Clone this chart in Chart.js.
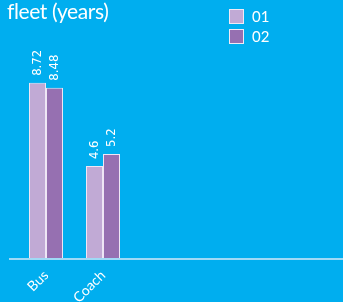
<!DOCTYPE html>
<html>
<head>
<meta charset="utf-8">
<script src="https://cdn.jsdelivr.net/npm/chart.js@4.4.1/dist/chart.umd.min.js"></script>
<style>
    html, body { margin: 0; padding: 0; background: #00aeef; }
    #wrap { position: relative; width: 343px; height: 302px; overflow: hidden; }
    #title {
        position: absolute; left: 7px; top: -2px;
        color: #fff; font: 21px Lato, sans-serif; white-space: nowrap; letter-spacing: -0.4px;
    }
    #legend { position: absolute; left: 229px; top: 6px; }
    .lg-item { display: flex; align-items: center; height: 20px; color: #fff; font: 15px Lato, sans-serif; }
    .lg-box { width: 13px; height: 13px; border: 1px solid #f0eaf6; margin-right: 8px; }
</style>
</head>
<body>
<div id="wrap">
    <canvas id="chart" width="343" height="302"></canvas>
    <div id="title">fleet (years)</div>
    <div id="legend"></div>
</div>
<script>
const categories = ["Bus", "Coach"];
const seriesNames = ["01", "02"];
const series01 = [8.72, 4.6];
const series02 = [8.48, 5.2];
const seriesColors = ["#c1aad5", "#9670b1"];

const legend = document.getElementById("legend");
legend.innerHTML = seriesNames.map((name, i) => `
    <div class="lg-item"><div class="lg-box" style="background:${seriesColors[i]}"></div>${name}</div>
`).join("");

// long baseline across the panel, like the original
const baselinePlugin = {
    id: "baseline",
    afterDatasetsDraw(chart) {
        const { ctx, chartArea } = chart;
        ctx.save();
        ctx.strokeStyle = "#9fdaf6";
        ctx.lineWidth = 2;
        ctx.beginPath();
        ctx.moveTo(9, chartArea.bottom);
        ctx.lineTo(chart.width, chartArea.bottom);
        ctx.stroke();
        ctx.restore();
    },
};

// vertical value labels above each bar
const valueLabels = {
    id: "valueLabels",
    afterDatasetsDraw(chart) {
        const { ctx } = chart;
        ctx.save();
        ctx.fillStyle = "#fff";
        ctx.font = "13px 'DejaVu Sans Condensed', sans-serif";
        ctx.textAlign = "left";
        ctx.textBaseline = "middle";
        chart.data.datasets.forEach((ds, di) => {
            chart.getDatasetMeta(di).data.forEach((bar, i) => {
                ctx.save();
                ctx.translate(bar.x, bar.y - 7);
                ctx.rotate(-Math.PI / 2);
                ctx.fillText(String(ds.data[i]), 0, 0);
                ctx.restore();
            });
        });
        ctx.restore();
    },
};

new Chart(document.getElementById("chart"), {
    type: "bar",
    data: {
        labels: categories,
        datasets: [
            { label: seriesNames[0], data: series01, backgroundColor: seriesColors[0] },
            { label: seriesNames[1], data: series02, backgroundColor: seriesColors[1] },
        ].map(d => ({ ...d, borderColor: "#eee6f5", borderWidth: 1, categoryPercentage: 34 / 57, barPercentage: 1 })),
    },
    options: {
        responsive: false,
        animation: false,
        layout: { padding: { left: 17.5, right: 211.5, top: 57, bottom: 0 } },
        plugins: { legend: { display: false }, tooltip: { enabled: false } },
        scales: {
            x: {
                grid: { display: false },
                border: { display: false },
                ticks: {
                    color: "#fff",
                    font: { family: "Lato", size: 14 },
                    minRotation: 45,
                    maxRotation: 45,
                    padding: 0,
                },
                afterFit(scale) { scale.height = 43; },
            },
            y: { display: false, min: 0, max: 10 },
        },
    },
    plugins: [baselinePlugin, valueLabels],
});
</script>
</body>
</html>
